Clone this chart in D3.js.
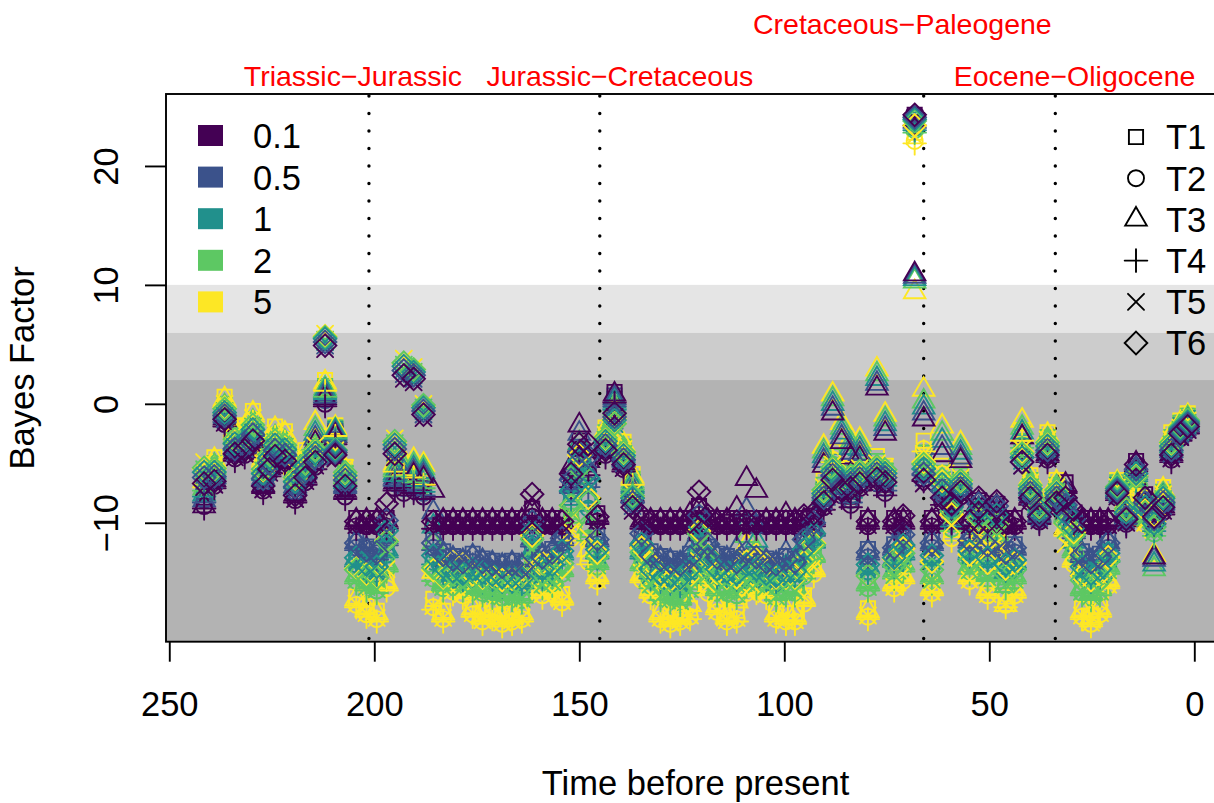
<!DOCTYPE html>
<html>
<head>
<meta charset="utf-8">
<script src="https://cdn.jsdelivr.net/npm/d3@7"></script>
<style>
  body { margin: 0; background: #fff; }
  svg text { font-family: "Liberation Sans", Arial, sans-serif; }
</style>
</head>
<body>
<svg id="chart" width="1214" height="803"></svg>
<script>
// ---- data ----
const priors      = ['0.1', '0.5', '1', '2', '5'];
const tests       = ['T1', 'T2', 'T3', 'T4', 'T5', 'T6'];
const xTicks      = [250, 200, 150, 100, 50, 0];
const yTicks      = [20, 10, 0, -10];
const bfThresholds = [2, 6, 10];
const extinctions = [201.3, 145, 66, 33.9];
const extinctionLabels = ['Triassic\u2212Jurassic', 'Jurassic\u2212Cretaceous', 'Cretaceous\u2212Paleogene', 'Eocene\u2212Oligocene'];
const labelTimes  = [205.2, 140.1, 71.2, 29.2];

const times = [
	241.5, 239.0, 236.5, 234.0, 231.6, 229.6, 227.1, 225.6, 224.2, 221.8,
	219.3, 216.8, 214.4, 212.0, 209.5, 207.1, 204.4, 201.9, 199.4, 197.0,
	195.0, 192.8, 190.4, 188.0, 185.6, 183.2, 180.8, 178.4, 176.0, 173.6,
	171.2, 168.8, 166.4, 164.0, 161.5, 159.0, 156.6, 154.2, 152.0, 150.0,
	147.8, 145.6, 143.6, 141.4, 139.2, 137.0, 134.8, 132.6, 130.2, 127.8,
	125.4, 123.0, 120.8, 118.6, 116.4, 114.0, 111.6, 109.2, 106.8, 104.4,
	102.0, 99.6, 97.4, 95.2, 92.8, 90.4, 88.2, 86.0, 83.8, 81.6,
	79.6, 77.4, 75.4, 73.2, 71.0, 68.2, 66.0, 64.0, 61.5, 59.2,
	57.0, 54.8, 52.6, 50.4, 48.2, 46.0, 43.8, 42.0, 40.0, 37.8,
	35.8, 33.6, 31.4, 29.4, 27.4, 25.2, 23.0, 21.0, 18.8, 16.6,
	14.2, 12.0, 9.8, 7.6, 5.6, 3.4, 1.6
];

// Bayes factor per prior (value for T1..T4)
const bf01 = [
	-8.3, -6.6, -1.4, -4.3, -4.0, -3.2, -7.0, -5.6, -4.5, -4.9,
	-7.8, -6.3, -5.0, 0.3, -2.9, -7.5, -10, -10, -10, -10,
	-6.8, -7.2, -7.0, -7.5, -10, -10, -10, -10, -10, -10,
	-10, -10, -10, -10, -9.2, -10, -10, -10, -6.5, -3.5,
	-5.5, -9.6, -4.0, 0.6, -5.2, -7.8, -10, -10, -10, -10,
	-10, -10, -9.0, -10, -10, -10, -10, -10, -10, -10,
	-10, -10, -10, -10, -9.8, -8.4, -6.0, -7.4, -8.2, -6.8,
	-10, -6.4, -7.2, -10, -10, 23.9, -6.0, -10, -8.0, -9.5,
	-7.5, -10, -8.5, -10, -8.8, -10, -10, -4.0, -8.0, -9.6,
	-4.4, -8.4, -7.0, -10, -10, -10, -10, -10, -7.6, -9.8,
	-5.2, -8.0, -9.6, -8.8, -4.4, -2.6, -2.0
];
const bf05 = [
	-7.8, -6.2, -1.1, -3.9, -3.6, -2.7, -6.4, -5.1, -4.0, -4.4,
	-7.1, -5.8, -4.6, 0.6, -2.7, -7.0, -11.8, -12.4, -12.6, -11.4,
	-6.4, -6.8, -6.7, -7.2, -11.8, -12.8, -13.2, -13.4, -13.0, -13.4,
	-13.6, -13.8, -13.6, -13.8, -11.5, -13.0, -12.6, -11.4, -7.0, -4.2,
	-6.5, -11.5, -3.6, 0.3, -4.8, -7.4, -11.5, -12.8, -13.2, -13.4,
	-13.6, -13.0, -11.0, -12.4, -13.0, -13.2, -13.4, -12.6, -13.0, -13.4,
	-13.6, -13.2, -13.4, -12.0, -10.6, -8.0, -5.6, -7.0, -7.8, -6.4,
	-12.6, -6.0, -6.8, -12.2, -11.6, 23.7, -5.5, -11.8, -7.4, -9.6,
	-7.2, -11.6, -9.0, -12.0, -9.2, -12.6, -12.2, -4.0, -7.6, -9.4,
	-4.0, -8.0, -7.6, -10.8, -12.8, -13.4, -13.0, -11.8, -7.4, -9.6,
	-5.6, -8.4, -9.8, -8.4, -4.0, -2.4, -1.8
];
const bf1 = [
	-7.3, -5.8, -0.8, -3.4, -3.2, -2.2, -5.9, -4.6, -3.5, -3.9,
	-6.6, -5.3, -4.2, 0.9, -2.5, -6.6, -13.2, -13.8, -14.0, -12.4,
	-6.0, -6.4, -6.4, -6.9, -13.0, -14.0, -14.4, -14.6, -14.2, -14.5,
	-14.7, -14.9, -14.8, -15.0, -12.5, -14.2, -13.8, -12.6, -8.0, -5.0,
	-8.5, -12.5, -3.2, 0.0, -4.4, -7.0, -12.5, -14.2, -14.6, -14.8,
	-15.0, -14.2, -12.0, -13.6, -14.2, -14.4, -14.6, -13.8, -14.2, -14.6,
	-14.8, -14.4, -14.4, -13.0, -11.6, -7.6, -5.2, -6.6, -7.4, -6.0,
	-13.8, -5.6, -6.4, -13.2, -12.6, 23.5, -5.0, -13.0, -6.8, -9.8,
	-6.8, -12.6, -9.6, -13.2, -10.0, -13.8, -13.4, -3.6, -7.2, -9.0,
	-3.6, -7.6, -8.4, -11.6, -14.0, -14.6, -14.2, -12.8, -7.2, -9.2,
	-6.0, -8.8, -10.2, -8.0, -3.6, -2.2, -1.6
];
const bf2 = [
	-6.8, -5.4, -0.4, -2.9, -2.8, -1.7, -5.4, -4.2, -3.0, -3.4,
	-6.1, -4.9, -3.8, 1.1, -2.4, -6.2, -14.6, -15.2, -15.4, -13.6,
	-5.6, -6.0, -6.1, -6.6, -14.4, -15.2, -15.0, -15.2, -15.4, -15.6,
	-15.8, -16.0, -16.0, -16.2, -13.5, -15.0, -14.8, -14.0, -9.5, -5.8,
	-11.0, -13.4, -2.8, -0.4, -4.0, -6.7, -13.5, -15.0, -16.0, -16.2,
	-16.4, -15.4, -13.0, -14.6, -15.6, -15.6, -15.8, -14.8, -15.0, -15.2,
	-16.0, -15.6, -15.6, -14.2, -12.8, -7.2, -4.8, -6.2, -7.0, -5.6,
	-15.2, -5.2, -6.0, -14.2, -13.6, 23.3, -4.5, -14.6, -6.2, -10.2,
	-6.4, -13.8, -10.4, -14.4, -11.0, -15.0, -14.6, -3.2, -6.8, -8.6,
	-3.2, -7.2, -9.4, -12.4, -15.6, -16.0, -15.6, -13.8, -7.0, -8.8,
	-6.4, -9.4, -10.6, -7.8, -3.2, -2.0, -1.4
];
const bf5 = [
	-6.2, -4.9, 0.2, -2.3, -2.2, -1.0, -4.8, -3.6, -2.3, -2.7,
	-5.4, -4.3, -3.3, 1.6, -2.2, -5.7, -16.6, -17.4, -17.8, -15.2,
	-5.2, -5.5, -5.7, -6.3, -16.8, -17.8, -15.5, -15.8, -17.4, -18.0,
	-17.6, -18.2, -18.0, -17.8, -15.0, -15.8, -15.6, -16.4, -11.0, -5.0,
	-13.0, -14.6, -2.4, -0.8, -3.6, -6.3, -14.5, -15.8, -17.8, -18.2,
	-18.0, -17.6, -14.5, -15.6, -17.2, -18.0, -17.8, -15.6, -15.4, -15.8,
	-17.8, -18.0, -18.0, -16.5, -14.0, -6.8, -4.4, -5.8, -6.6, -5.2,
	-17.6, -4.8, -5.6, -15.2, -14.6, 22.4, -3.5, -15.6, -5.6, -11.0,
	-6.0, -14.6, -11.4, -15.8, -12.0, -16.6, -15.8, -2.6, -6.4, -8.2,
	-2.8, -6.8, -10.6, -13.2, -17.6, -18.2, -17.4, -15.0, -6.8, -8.4,
	-6.8, -9.8, -9.4, -7.4, -2.8, -1.8, -1.2
];
// where T3 (triangles) departs from the others
const liftT3 = [
	-0.5, 0, 0, 0, 0, 0, 0, 0, 0, 0,
	0, 0, 1.5, 0, 0, 0, 0, 0, 0, 0,
	0, 0.5, 0.8, 1.0, 2.5, 0, 0, 0, 0, 0,
	0, 0, 0, 0, 0, 0, 0, 0, 1.0, 1.5,
	0.5, 0, 0, 0, 0, 0, 0, 0, 0, 0,
	0, 0.5, 0, 0, 0, 0, 1.0, 3.5, 2.5, 0,
	0, 0.5, 0, 0, 0, 3.0, 5.0, 4.0, 3.5, 2.0,
	0, 7.5, 4.5, 0, 0, -13.2, 4.5, 0, 3.5, 2.0,
	2.5, 0, 0, 0, 0, -0.5, 0, 1.0, 0, 0,
	0, 0, 0, 0, 0, 0, 0, 0, 0, 0,
	0, 0, -3.5, 0, 0, 0, 0
];
// where T5 / T6 (crosses, diamonds) depart from the others
const liftT56 = [
	1.5, 0, 0, 0, 0, 0, 0, 0, 0, 0,
	0, 0, 0, 4.5, -1.5, 0.5, 0, 0, 0, 1.5,
	2.5, 9.5, 9.0, 6.5, 0, 0, 0, 0, 0, 0,
	0, 0, 0, 0, 1.5, 0, 0, 0, 0.5, 0,
	2.0, 0, 0, -1.5, 0, -1.0, 0.5, 0, 0, 0,
	0, 0, 1.5, 0.5, 0, 0, 0, 0, 0, 0,
	0, 0, 0, 0.5, 0.5, 0, -0.5, 0, 1.0, 0,
	0, 0, 0.5, 0, 0.5, 0.3, -0.5, 0, 0, 1.0,
	0, 0, 0.5, 0, 0.5, 0, 0, -1.0, 0, 0,
	0, 0, -1.0, 1.0, 0, 0, 0, 0, 0, 0,
	0, 0, 0, 0, 0, 0, 0
];
const shapeShift = [0.4, -0.3, 0.2, -0.5, -0.2, 0.1];
// share of the gap to the 0.1 prior that T6 (diamonds) closes, per prior
const diamondPull = [0, 0, 0.05, 0.12, 0.4];

// ---- layout ----
const svg = d3.select('#chart');
const pLeft = 166, pTop = 94, pBottom = 641.7;
const fontMain = 34.5;
const colors = ['#440154', '#3B528B', '#21908C', '#5DC863', '#FDE725'];
const series = [bf01, bf05, bf1, bf2, bf5];

const x = d3.scaleLinear().domain([250.8, -7.5]).range([pLeft, 169.3 + 257.5 * 4.1]);
const y = d3.scaleLinear().domain([-20, 26.05]).range([pBottom, pTop]);
const pRight = x.range()[1];

// background bands
const bandColors = ['#B3B3B3', '#CCCCCC', '#E5E5E5'];
const bandEdges = [y.domain()[0]].concat(bfThresholds);
svg.append('g').selectAll('rect').data(bandColors).enter()
	.append('rect')
		.attr('x', pLeft)
		.attr('width', pRight - pLeft)
		.attr('y', (d, i) => y(bandEdges[i + 1]))
		.attr('height', (d, i) => y(bandEdges[i]) - y(bandEdges[i + 1]))
		.attr('fill', (d) => d);

// extinction lines
svg.append('g').selectAll('line').data(extinctions).enter()
	.append('line')
		.attr('x1', (d) => x(d)).attr('x2', (d) => x(d))
		.attr('y1', pTop + 2).attr('y2', pBottom)
		.attr('stroke', '#000')
		.attr('stroke-width', 3.4)
		.attr('stroke-linecap', 'round')
		.attr('stroke-dasharray', '0 17.5');

// symbols, R pch 0..5 geometry
const R = 8;
function sym(k, r) {
	let h = 0.886 * r, p = Math.SQRT2 * r;
	switch (k) {
		case 0: return `M${-h},${-h}H${h}V${h}H${-h}Z`;
		case 1: return `M${r},0A${r},${r} 0 1,1 ${-r},0A${r},${r} 0 1,1 ${r},0Z`;
		case 2: return `M0,${-1.555 * r}L${1.347 * r},${0.7776 * r}L${-1.347 * r},${0.7776 * r}Z`;
		case 3: return `M${-p},0H${p}M0,${-p}V${p}`;
		case 4: return `M${-r},${-r}L${r},${r}M${-r},${r}L${r},${-r}`;
		default: return `M0,${-p}L${p},0L0,${p}L${-p},0Z`;
	}
}

let pts = [];
tests.forEach((t, s) => {
	for (let c = priors.length - 1; c >= 0; c--) {
		times.forEach((tm, i) => {
			let v = series[c][i] + shapeShift[s];
			if (s === 2) v += liftT3[i];
			if (s >= 4) v += liftT56[i];
			if (s === 5) v += (bf01[i] - series[c][i]) * diamondPull[c];
			pts.push({ t: tm, v: v, s: s, c: c });
		});
	}
});

svg.append('clipPath').attr('id', 'plot-clip')
	.append('rect').attr('x', pLeft).attr('y', pTop).attr('width', pRight - pLeft).attr('height', pBottom - pTop);

svg.append('g').attr('clip-path', 'url(#plot-clip)')
	.selectAll('path').data(pts).enter()
	.append('path')
		.attr('transform', (o) => 'translate(' + x(o.t) + ',' + y(o.v) + ')')
		.attr('d', (o) => sym(o.s, R))
		.attr('fill', 'none')
		.attr('stroke', (o) => colors[o.c])
		.attr('stroke-width', 1.9)
		.attr('stroke-linecap', 'round');

// box
svg.append('rect')
	.attr('x', pLeft).attr('y', pTop)
	.attr('width', pRight - pLeft).attr('height', pBottom - pTop)
	.attr('fill', 'none').attr('stroke', '#000').attr('stroke-width', 1.9);

// axes
let xAxis = svg.append('g')
	.attr('transform', 'translate(0,' + pBottom + ')')
	.call(d3.axisBottom(x).tickValues(xTicks).tickSize(20).tickSizeOuter(0).tickPadding(30));
xAxis.select('.domain').remove();
xAxis.selectAll('line').attr('stroke-width', 1.9);
xAxis.selectAll('text').attr('font-size', fontMain).attr('font-family', '"Liberation Sans", Arial, sans-serif').attr('fill', '#000');

let yAxis = svg.append('g')
	.attr('transform', 'translate(' + pLeft + ',0)')
	.call(d3.axisLeft(y).tickValues(yTicks).tickSize(21).tickSizeOuter(0).tickFormat((d) => d < 0 ? '\u2212' + Math.abs(d) : d));
yAxis.select('.domain').remove();
yAxis.selectAll('line').attr('stroke-width', 1.9);
yAxis.selectAll('text')
	.attr('font-size', fontMain).attr('font-family', '"Liberation Sans", Arial, sans-serif').attr('fill', '#000')
	.attr('x', 0).attr('y', -48).attr('dy', 0)
	.attr('transform', 'rotate(-90)')
	.attr('text-anchor', 'middle');

svg.append('text')
	.attr('x', (pLeft + pRight) / 2).attr('y', 795)
	.attr('text-anchor', 'middle').attr('font-size', fontMain)
	.text('Time before present');

svg.append('text')
	.attr('transform', 'translate(34,' + (pTop + pBottom) / 2 + ') rotate(-90)')
	.attr('text-anchor', 'middle').attr('font-size', fontMain)
	.text('Bayes Factor');

// extinction labels (red, two rows)
svg.append('g').selectAll('text').data(extinctionLabels).enter()
	.append('text')
		.attr('x', (o, i) => x(labelTimes[i]))
		.attr('y', (o, i) => i === 2 ? 34 : 86)
		.attr('text-anchor', 'middle')
		.attr('font-size', 28.5)
		.attr('fill', '#FF0000')
		.text((o) => o);

// legend: priors
let lg1 = svg.append('g').selectAll('g').data(priors).enter().append('g')
	.attr('transform', (o, i) => 'translate(0,' + (135.5 + i * 41.6) + ')');
lg1.append('rect')
	.attr('x', 198).attr('y', -10.5).attr('width', 25).attr('height', 21)
	.attr('fill', (o, i) => colors[i]);
lg1.append('text')
	.attr('x', 253).attr('dy', '0.36em')
	.attr('font-size', fontMain)
	.text((o) => o);

// legend: tests
let lg2 = svg.append('g').selectAll('g').data(tests).enter().append('g')
	.attr('transform', (o, i) => 'translate(0,' + (137 + i * 41.2) + ')');
lg2.append('path')
	.attr('transform', 'translate(1136,0)')
	.attr('d', (o, i) => sym(i, R))
	.attr('fill', 'none').attr('stroke', '#000').attr('stroke-width', 1.9)
	.attr('stroke-linecap', 'round');
lg2.append('text')
	.attr('x', 1166).attr('dy', '0.36em')
	.attr('font-size', fontMain)
	.text((o) => o);
</script>
</body>
</html>
